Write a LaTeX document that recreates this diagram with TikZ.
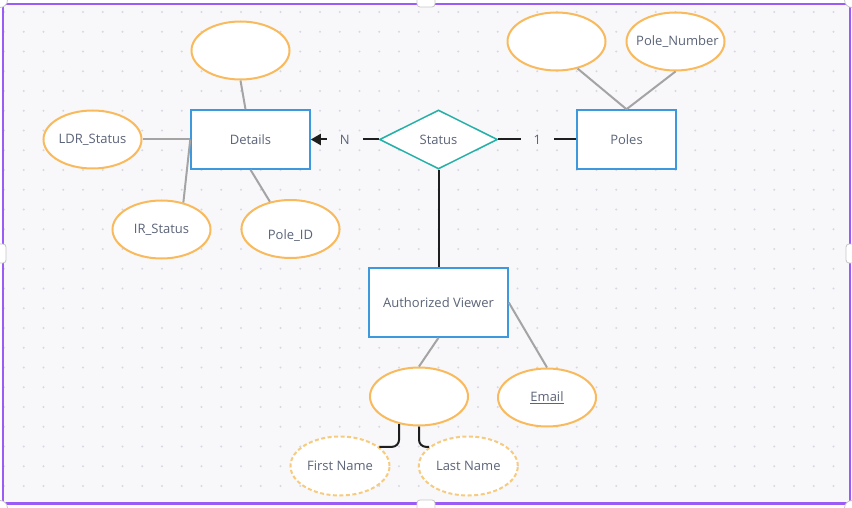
\documentclass[tikz,border=0pt]{standalone}
\usepackage{fontspec}
\setmainfont{Open Sans}
\usetikzlibrary{positioning, arrows.meta, shapes.geometric}

\definecolor{bgpaper}{HTML}{F8F8FB}
\definecolor{griddot}{HTML}{D8D8E1}
\definecolor{framepurple}{HTML}{9B5CF6}
\definecolor{entblue}{HTML}{3D98DE}
\definecolor{relteal}{HTML}{26AFA7}
\definecolor{attrorange}{HTML}{F8BA5C}
\definecolor{attrdash}{HTML}{F6CB7E}
\definecolor{labelgray}{HTML}{5B6478}
\definecolor{linkgray}{HTML}{A4A4A4}
\definecolor{linkdark}{HTML}{1E1E1E}

% attribute text that does not widen its ellipse
\newcommand{\attrtext}[1]{\makebox[0pt]{#1}}

\begin{document}
\begin{tikzpicture}[x=1pt, y=-1pt, >=Stealth,
  every node/.style={font=\fontsize{13}{15}\selectfont, text=labelgray},
  entity/.style={rectangle, draw=entblue, line width=1.5pt, fill=white, minimum height=59pt},
  relation/.style={diamond, draw=relteal, line width=1.5pt, fill=white,
    minimum width=118pt, minimum height=59pt, inner sep=0pt},
  attr/.style={ellipse, draw=attrorange, line width=2pt, fill=white, inner sep=0pt,
    minimum width=98pt, minimum height=58pt},
  subattr/.style={attr, draw=attrdash, dash pattern=on 4pt off 2.5pt,
    minimum width=99pt, minimum height=59pt},
  attrlink/.style={draw=linkgray, line width=2pt},
  rellink/.style={draw=linkdark, line width=2pt},
  card/.style={fill=bgpaper, inner xsep=13pt, inner ysep=2pt},
  handle/.style={fill=white, draw=black!22, line width=0.8pt}
]
  \useasboundingbox (0,0) rectangle (852,508);

  % Canvas
  \fill[white] (0,0) rectangle (852,508);
  \fill[bgpaper] (3,4) rectangle (850,503.5);
  \foreach \i in {0,...,42}
    \foreach \j in {0,...,24}
      \fill[griddot] (4+19.75*\i, 12+19.75*\j) circle[radius=1.1pt];

  % Entities and relation
  \node[entity, minimum width=119pt] (details) at (250.5,139.5) {Details};
  \node[relation] (status) at (438.5,139.5) {Status};
  \node[entity, minimum width=99pt] (poles) at (626.5,139.5) {Poles};
  \node[entity, minimum width=139pt, minimum height=69pt] (viewer) at (438.5,302.5) {Authorized Viewer};

  % Attributes
  \node[attr] (detailtop) at (240.5,50.5) {};
  \node[attr] (ldr) at (92.5,139.5) {\attrtext{LDR\_Status}};
  \node[attr] (irs) at (161.5,229.5) {\attrtext{IR\_Status}};
  \node[attr] (poleid) at (290.5,229) {\raisebox{-11pt}[0pt][0pt]{\attrtext{Pole\_ID}}};
  \node[attr] (polestop) at (556.5,41.5) {};
  \node[attr] (polenum) at (675.5,41.5) {\attrtext{\hspace{4pt}Pole\_Number}};
  \node[attr] (viewername) at (419,396.5) {};
  \node[attr] (email) at (547,397.5) {\attrtext{\underline{Email}}};
  \node[subattr] (firstname) at (340,466) {\attrtext{First Name}};
  \node[subattr] (lastname) at (468.3,466) {\attrtext{Last Name}};

  % Relation links
  \draw[rellink, -{Triangle[length=10pt, width=11pt]}] (status.west) -- (details.east)
    node[card, midway] {N};
  \draw[rellink] (status.east) -- (poles.west) node[card, midway] {1};
  \draw[rellink] (status.south) -- (viewer.north);

  % Attribute links
  \draw[attrlink] (detailtop.south) -- ([xshift=-5pt]details.north);
  \draw[attrlink] (ldr.east) -- (details.west);
  \draw[attrlink] (irs.51) -- (details.west);
  \draw[attrlink] (poleid.127) -- (details.south);
  \draw[attrlink] (polestop.-52) -- (poles.north);
  \draw[attrlink] (polenum.south) -- (poles.north);
  \draw[attrlink] (viewer.south) -- (viewername.north);
  \draw[attrlink] (viewer.east) -- (email.north);
  \draw[rellink, rounded corners=7pt] (viewername.-126.5) |- (firstname.26);
  \draw[rellink, rounded corners=7pt] (viewername.south) |- (lastname.154);

  % Frame and handles
  \draw[framepurple, line width=2.3pt] (3,4) rectangle (850,503.5);
  \draw[handle, rounded corners=3pt] (417,-5) rectangle (435,7);
  \draw[handle, rounded corners=3pt] (417,500) rectangle (435,513);
  \draw[handle, rounded corners=3pt] (-5,244) rectangle (6,263);
  \draw[handle, rounded corners=3pt] (846,244) rectangle (857,263);
  \foreach \cx/\cy in {0/0, 852/0, 0/508, 852/508}
    \draw[handle] (\cx,\cy) circle[radius=7.5pt];

\end{tikzpicture}
\end{document}
